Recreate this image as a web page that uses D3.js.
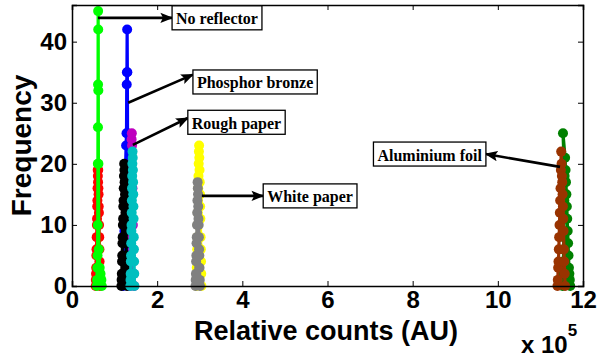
<!DOCTYPE html>
<html>
<head>
<meta charset="utf-8">
<script src="https://cdn.jsdelivr.net/npm/d3@7"></script>
<style>
  html, body { margin: 0; padding: 0; background: #fff; }
  svg { display: block; }
</style>
</head>
<body>
<div id="chart"></div>
<script>
// ---------- DATA (x in units of 1e5 counts, y = frequency) ----------
const xTicks = [0, 2, 4, 6, 8, 10, 12];
const yTicks = [0, 10, 20, 30, 40];

const redX   = [0.556,0.560,0.564,0.568,0.572,0.576,0.580,0.584,0.588,0.592,0.596,0.600,0.604,0.608,0.612,0.616,0.620,0.624,0.628,0.632,0.636,0.640,0.644,0.648,0.652,0.656];
const redY   = [0,1,2,3,5,6,8,10,11,13,14,16,19,18,17,19,16,15,13,12,10,8,6,4,2,0];

const greenX = [0.580,0.590,0.595,0.600,0.605,0.608,0.610,0.612,0.614,0.616,0.618,0.620,0.630,0.650,0.670,0.690,0.700];
const greenY = [0,1,3,5,10,20,26,33,45,42,32,20,6,3,2,1,0];

const blueX  = [1.200,1.210,1.220,1.230,1.240,1.250,1.260,1.270,1.280,1.285,1.290,1.295,1.300,1.305,1.310,1.315,1.320,1.325,1.330,1.335,1.340];
const blueY  = [0,2,5,9,13,17,20,23,25,33,35,42,35,25,20,15,10,6,3,1,0];

const magentaX = [1.360,1.365,1.370,1.375,1.380,1.385,1.390,1.395,1.400,1.405,1.410,1.415,1.420,1.425,1.430,1.435,1.440,1.450,1.460];
const magentaY = [0,2,5,8,12,15,18,20,24,25,23,19,16,13,10,6,4,2,0];

const blackX = [1.160,1.165,1.170,1.175,1.180,1.185,1.190,1.195,1.200,1.205,1.210,1.215,1.220,1.225,1.230,1.235,1.240,1.245,1.250,1.255,1.260,1.265,1.270,1.275,1.280,1.285,1.290];
const blackY = [0,1,2,4,5,7,8,10,11,13,14,16,18,20,19,17,16,15,13,12,11,9,7,5,3,1,0];

const cyanX  = [1.370,1.374,1.378,1.382,1.386,1.390,1.394,1.398,1.402,1.406,1.410,1.414,1.418,1.422,1.426,1.430,1.434,1.438,1.442,1.446,1.450,1.454,1.458,1.462,1.466];
const cyanY  = [0,1,2,4,5,7,9,10,12,14,16,18,20,22,21,19,17,15,13,11,8,6,4,2,0];

const yellowX = [2.920,2.925,2.930,2.935,2.940,2.945,2.950,2.955,2.960,2.965,2.970,2.975,2.980,2.985,2.990,2.995,3.000,3.005,3.010,3.015,3.020,3.025,3.030,3.035,3.040];
const yellowY = [0,1,3,5,6,8,10,12,14,16,18,20,22,23,21,19,17,15,13,11,8,6,4,2,0];

const grayX  = [2.900,2.905,2.910,2.915,2.920,2.925,2.930,2.935,2.940,2.945,2.950,2.955,2.960,2.965,2.970,2.975,2.980,2.985,2.990,2.995,3.000,3.005];
const grayY  = [0,1,2,4,5,7,8,10,12,14,17,16,15,13,11,10,8,6,5,3,1,0];

const dgreenX = [11.520,11.526,11.532,11.538,11.544,11.550,11.556,11.562,11.568,11.530,11.580,11.590,11.600,11.610,11.620,11.630,11.640,11.650,11.660,11.670,11.680,11.690,11.700];
const dgreenY = [0,1,2,4,6,8,11,14,18,25,21,19,17,15,13,11,9,7,5,3,2,1,0];

const brownX = [11.400,11.408,11.416,11.424,11.432,11.440,11.448,11.456,11.464,11.472,11.480,11.488,11.496,11.504,11.512,11.520,11.528,11.536,11.544,11.552,11.560,11.570,11.580];
const brownY = [0,1,3,4,6,8,10,12,14,16,19,22,20,18,17,15,13,11,9,6,4,2,0];

const seriesNames  = ["red","green","blue","magenta","black","cyan","yellow","gray","dgreen","brown"];
const seriesColors = ["#ff0000","#00ff00","#0000ff","#bf00bf","#000000","#00bfbf","#ffff00","#808080","#008000","#993300"];
const seriesX = [redX, greenX, blueX, magentaX, blackX, cyanX, yellowX, grayX, dgreenX, brownX];
const seriesY = [redY, greenY, blueY, magentaY, blackY, cyanY, yellowY, grayY, dgreenY, brownY];

// annotations: label, arrow tail (x,y) on data, arrow head (x,y), side of box the head touches
const annLabels = ["No reflector","Phosphor bronze","Rough paper","White paper","Aluminium foil"];
const annTail   = [[0.61,43.9],[1.32,30.0],[1.43,23.1],[3.05,14.75],[11.46,19.5]];
const annHead   = [[2.35,43.9],[2.84,34.6],[2.72,27.5],[4.49,14.75],[9.72,21.6]];
const annBoxY   = [43.9, 33.4, 26.8, 14.75, 21.6];
const annSide   = ["left","left","left","left","right"];

// ---------- LAYOUT ----------
const W = 599, H = 358;
const margin = {left: 72, right: 16, top: 5, bottom: 72};
const iw = W - margin.left - margin.right;
const ih = H - margin.top - margin.bottom;

const x = d3.scaleLinear().domain([0, 12]).range([0, iw]);
const y = d3.scaleLinear().domain([0, 46]).range([ih, 0]);

const svg = d3.select("#chart").append("svg").attr("width", W).attr("height", H);
const defs = svg.append("defs");
defs.append("marker").attr("id","arr").attr("viewBox","0 0 10 10")
  .attr("refX", 9).attr("refY", 5).attr("markerWidth", 5).attr("markerHeight", 5)
  .attr("markerUnits","strokeWidth").attr("orient","auto")
  .append("path").attr("d","M0,1 L10,5 L0,9 L2,5 Z").attr("fill","#000");

const g = svg.append("g").attr("transform", `translate(${margin.left},${margin.top})`);

// series
const line = d3.line().x(d => x(d[0])).y(d => y(d[1]));
seriesNames.forEach((name, i) => {
  const pts = seriesX[i].map((v, j) => [v, seriesY[i][j]]);
  const sg = g.append("g").attr("class", "series-" + name);
  sg.append("path").datum(pts).attr("d", line)
    .attr("fill","none").attr("stroke", seriesColors[i]).attr("stroke-width", 3.2).attr("stroke-linejoin","round");
  sg.selectAll("circle").data(pts).join("circle")
    .attr("cx", d => x(d[0])).attr("cy", d => y(d[1])).attr("r", 5)
    .attr("fill", seriesColors[i]);
});

// axes (box with inward ticks)
const tickLen = 5;
const fontSans = "'Liberation Sans', Arial, sans-serif";
const axB = g.append("g").attr("transform", `translate(0,${ih})`)
  .call(d3.axisBottom(x).tickValues(xTicks).tickSize(-tickLen).tickPadding(6).tickFormat(d3.format("d")));
const axL = g.append("g")
  .call(d3.axisLeft(y).tickValues(yTicks).tickSize(-tickLen).tickPadding(5).tickFormat(d3.format("d")));
const axT = g.append("g")
  .call(d3.axisTop(x).tickValues(xTicks).tickSize(-tickLen).tickFormat(""));
const axR = g.append("g").attr("transform", `translate(${iw},0)`)
  .call(d3.axisRight(y).tickValues(yTicks).tickSize(-tickLen).tickFormat(""));
[axB, axL, axT, axR].forEach(a => {
  a.select(".domain").attr("stroke","#000").attr("stroke-width",1.5);
  a.selectAll(".tick line").attr("stroke","#000").attr("stroke-width",1);
  a.selectAll("text").attr("fill","#000")
    .style("font-family", fontSans).style("font-weight","bold").style("font-size","24px");
});
axB.selectAll("text").attr("dy","0.68em");

// annotations
annLabels.forEach((lab, i) => {
  const ag = g.append("g").attr("class","annotation");
  const [tx, ty] = annTail[i], [hx, hy] = annHead[i];
  ag.append("line").attr("x1", x(tx)).attr("y1", y(ty)).attr("x2", x(hx)).attr("y2", y(hy))
    .attr("stroke","#000").attr("stroke-width",2.6).attr("marker-end","url(#arr)");
  const txt = ag.append("text").text(lab)
    .style("font-family","'Liberation Serif','Times New Roman',serif").style("font-weight","bold").style("font-size","16px")
    .attr("dominant-baseline","central");
  const tw = txt.node().getComputedTextLength();
  const padX = 4, bh = 24;
  const bw = tw + 2 * padX;
  const bx = annSide[i] === "left" ? x(hx) : x(hx) - bw;
  const by = y(annBoxY[i]) - bh / 2;
  ag.insert("rect", "text").attr("x", bx).attr("y", by).attr("width", bw).attr("height", bh)
    .attr("fill","#fff").attr("stroke","#000").attr("stroke-width",1.3);
  txt.attr("x", bx + padX).attr("y", y(annBoxY[i]) + 1);
});

// axis labels
svg.append("text").attr("x", 326).attr("y", 340).attr("text-anchor","middle")
  .style("font-family", fontSans).style("font-weight","bold").style("font-size","27px")
  .text("Relative counts (AU)");
svg.append("text").attr("transform", `translate(31,${margin.top + ih / 2}) rotate(-90)`).attr("text-anchor","middle")
  .style("font-family", fontSans).style("font-weight","bold").style("font-size","28px")
  .text("Frequency");
const ex = svg.append("text").attr("x", 521).attr("y", 353)
  .style("font-family", fontSans).style("font-weight","bold").style("font-size","24px");
ex.append("tspan").text("x 10");
ex.append("tspan").attr("dy", -17).style("font-size","17px").text("5");
</script>
</body>
</html>
